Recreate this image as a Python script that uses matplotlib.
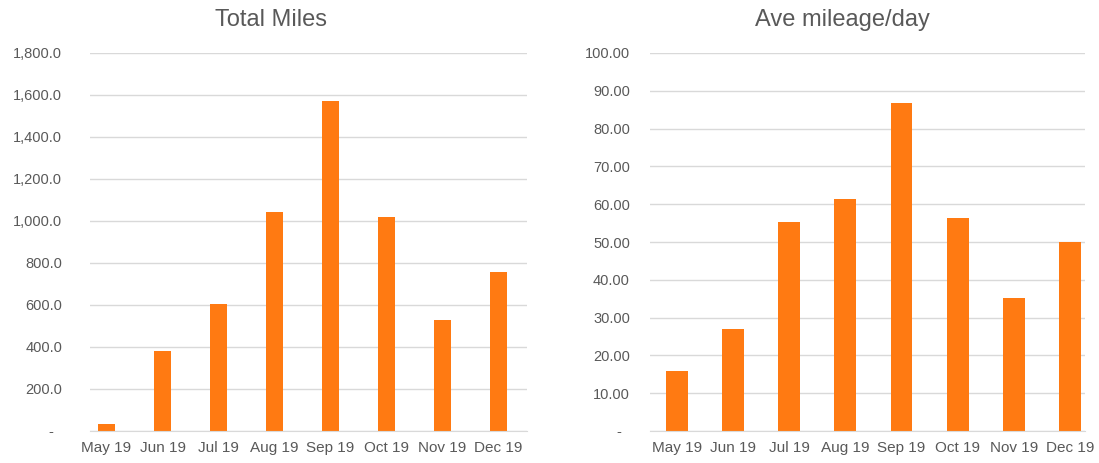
import matplotlib.pyplot as plt
import numpy as np
from matplotlib.ticker import FuncFormatter

plt.rcParams['font.family'] = ['Liberation Sans', 'DejaVu Sans']

# data
months = ['May 19', 'Jun 19', 'Jul 19', 'Aug 19', 'Sep 19', 'Oct 19', 'Nov 19', 'Dec 19']
total_miles = [35, 380, 605, 1045, 1570, 1020, 530, 755]
ave_per_day = [16.0, 27.0, 55.2, 61.5, 86.9, 56.3, 35.1, 50.0]

bar_color = '#FF7A12'
grid_color = '#D9D9D9'
text_color = '#595959'


def fmt_left(v, pos):
    # accounting style: zero shown as a dash
    return '-  ' if v == 0 else f'{v:,.1f}'


def fmt_right(v, pos):
    return '-  ' if v == 0 else f'{v:,.2f}'


def style_axis(ax, xlim, ymax, step, formatter, pad):
    x = np.arange(len(months))
    ax.set_xlim(*xlim)
    ax.set_ylim(0, ymax)
    ax.set_yticks(np.arange(0, ymax + step / 2, step))
    ax.yaxis.set_major_formatter(FuncFormatter(formatter))
    ax.set_xticks(x)
    ax.set_xticklabels(months)
    ax.grid(axis='y', color=grid_color, linewidth=1)
    ax.set_axisbelow(True)
    for s in ['top', 'right', 'left']:
        ax.spines[s].set_visible(False)
    ax.spines['bottom'].set_color(grid_color)
    ax.tick_params(axis='both', length=0, colors=text_color)
    ax.tick_params(axis='y', pad=pad, labelsize=10.5)
    ax.tick_params(axis='x', pad=7, labelsize=11)


fig = plt.figure(figsize=(10.99, 4.63), dpi=100)
ax1 = fig.add_axes([90 / 1099, 32 / 463, 437 / 1099, 378 / 463])
ax2 = fig.add_axes([650 / 1099, 32 / 463, 435 / 1099, 378 / 463])

ax1.bar(np.arange(len(months)), total_miles, width=0.31, color=bar_color)
style_axis(ax1, (-0.295, 7.51), 1800, 200, fmt_left, 20)

ax2.bar(np.arange(len(months)), ave_per_day, width=0.39, color=bar_color)
style_axis(ax2, (-0.48, 7.27), 100, 10, fmt_right, 14.5)

fig.text(271 / 1099, 1 - 20 / 463, 'Total Miles', fontsize=17, color=text_color,
         ha='center', va='center')
fig.text(842 / 1099, 1 - 20 / 463, 'Ave mileage/day', fontsize=17, color=text_color,
         ha='center', va='center')

fig.savefig('out.png', dpi=100)
